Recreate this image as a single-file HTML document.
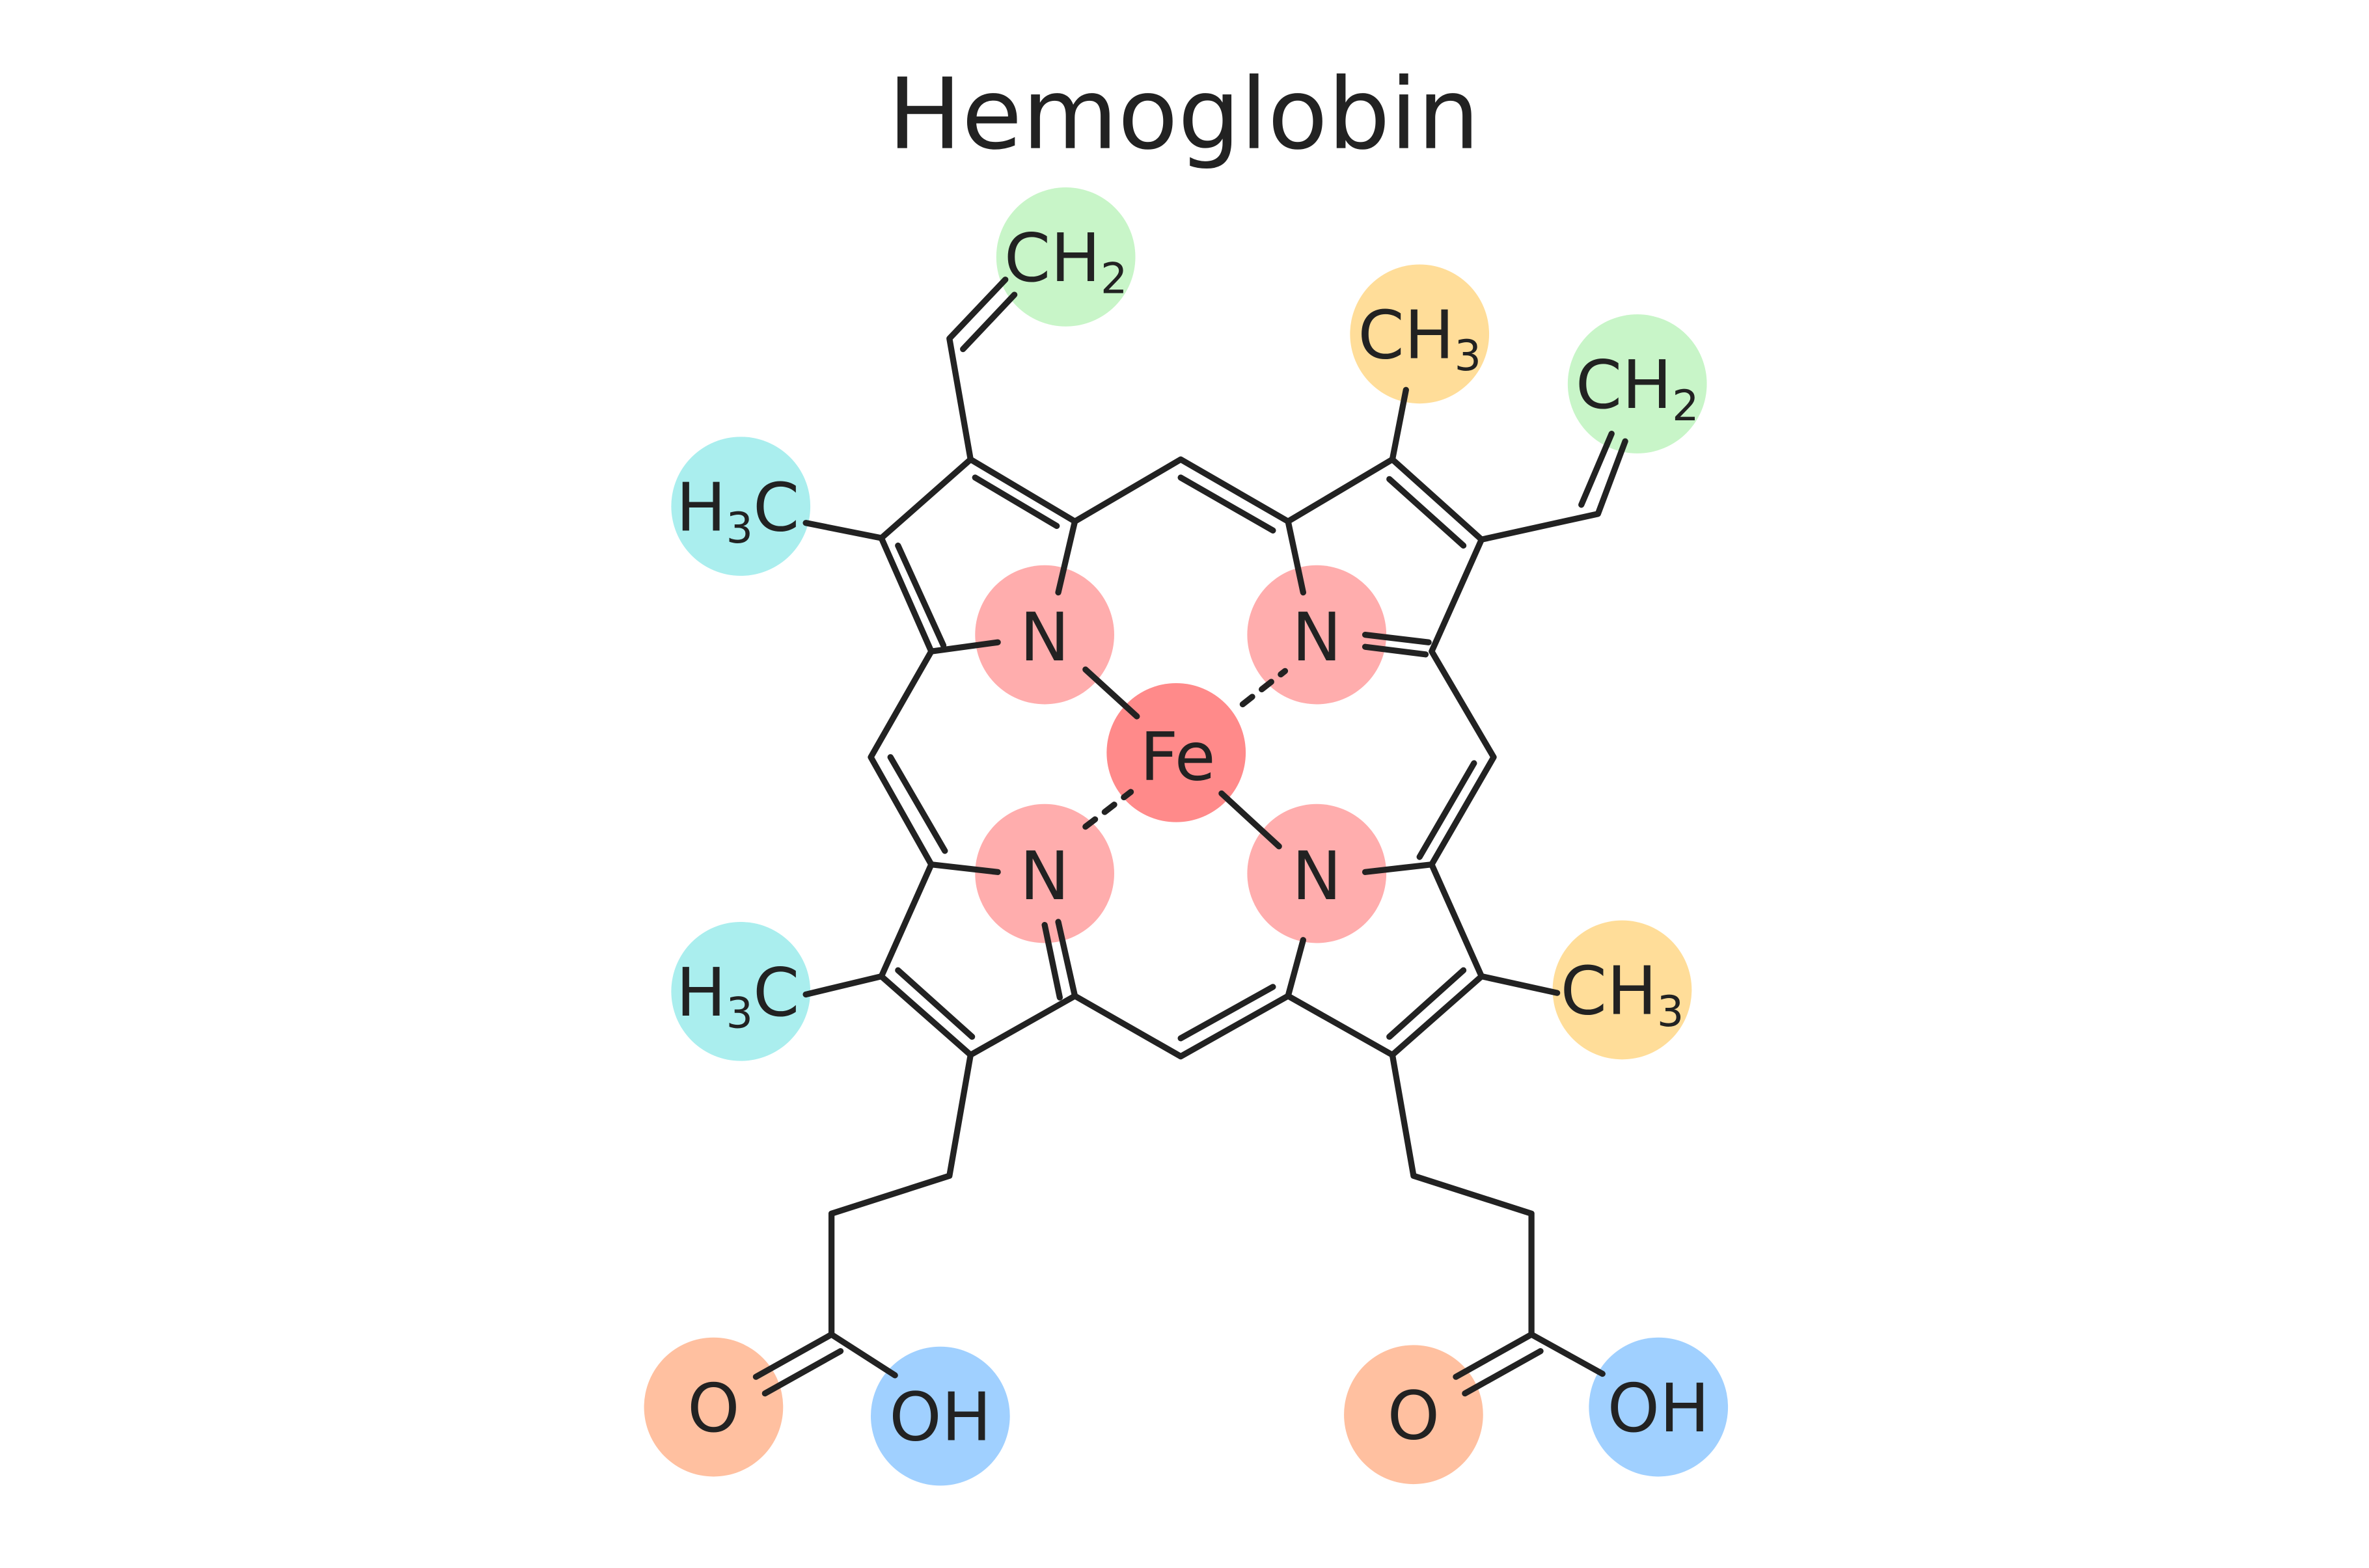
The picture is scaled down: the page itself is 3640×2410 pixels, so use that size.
<!DOCTYPE html>
<html><head><meta charset="utf-8"><style>html,body{margin:0;padding:0;background:#fff}svg{display:block}</style></head>
<body>
<svg width="3640" height="2410" viewBox="0 0 1567 1037.5" xmlns="http://www.w3.org/2000/svg">
<rect width="1567" height="1037.5" fill="#fff"/>
<text x="783" y="98" text-anchor="middle" font-family="DejaVu Sans, Liberation Sans, sans-serif" font-size="65" fill="#222">Hemoglobin</text>
<g>
<circle cx="705" cy="170" r="46" fill="#c8f5c8"/>
<circle cx="1083" cy="254" r="46" fill="#c8f5c8"/>
<circle cx="939" cy="221" r="46" fill="#ffdd99"/>
<circle cx="1073" cy="655" r="46" fill="#ffdd99"/>
<circle cx="490" cy="335" r="46" fill="#aaeeee"/>
<circle cx="490" cy="656" r="46" fill="#aaeeee"/>
<circle cx="691" cy="420" r="46" fill="#ffadad"/>
<circle cx="871" cy="420" r="46" fill="#ffadad"/>
<circle cx="871" cy="578" r="46" fill="#ffadad"/>
<circle cx="691" cy="578" r="46" fill="#ffadad"/>
<circle cx="778" cy="498" r="46" fill="#ff8a8a"/>
<circle cx="472" cy="931" r="46" fill="#ffc0a0"/>
<circle cx="935" cy="936" r="46" fill="#ffc0a0"/>
<circle cx="622" cy="937" r="46" fill="#a0d0ff"/>
<circle cx="1097" cy="931" r="46" fill="#a0d0ff"/>
</g>
<g stroke="#222" stroke-width="4" fill="none" stroke-linecap="round" stroke-linejoin="round">
<polyline points="616,431 583,356 642,304 711,345 781,304 852,345 921,304 980,357 947,431 988,501 947,572 980,646 921,698 852,659 781,699 711,659 642,698 583,646 616,572 576,501 616,431"/>
<line x1="616" y1="431" x2="660" y2="425"/>
<line x1="711" y1="345" x2="700" y2="392"/>
<line x1="852" y1="345" x2="862" y2="392"/>
<line x1="903" y1="420" x2="945" y2="425"/>
<line x1="903" y1="428" x2="943" y2="433"/>
<line x1="947" y1="572" x2="903" y2="577"/>
<line x1="852" y1="659" x2="862" y2="622"/>
<line x1="711" y1="659" x2="700" y2="610"/>
<line x1="701" y1="660" x2="691" y2="612"/>
<line x1="616" y1="572" x2="660" y2="577"/>
<line x1="645" y1="316" x2="699" y2="348"/>
<line x1="781" y1="316" x2="842" y2="351"/>
<line x1="919" y1="317" x2="968" y2="361"/>
<line x1="975" y1="505" x2="939" y2="567"/>
<line x1="968" y1="642" x2="919" y2="686"/>
<line x1="842" y1="653" x2="781" y2="687"/>
<line x1="643" y1="686" x2="594" y2="642"/>
<line x1="589" y1="501" x2="625" y2="563"/>
<line x1="594" y1="361" x2="624" y2="427"/>
<line x1="718" y1="443" x2="752" y2="474"/>
<line x1="808" y1="525" x2="846" y2="560"/>
<line x1="822" y1="466" x2="850" y2="444" stroke-dasharray="8,8"/>
<line x1="718" y1="547" x2="748" y2="524" stroke-dasharray="8,8"/>
<polyline points="642,304 628,224 665,185"/>
<line x1="637" y1="231" x2="671" y2="195"/>
<line x1="583" y1="356" x2="533" y2="346"/>
<line x1="921" y1="304" x2="930" y2="258"/>
<polyline points="980,357 1057,340 1075,292"/>
<line x1="1046" y1="334" x2="1066" y2="287"/>
<line x1="583" y1="646" x2="533" y2="658"/>
<line x1="980" y1="646" x2="1030" y2="657"/>
<polyline points="642,698 628,778 550,803 550,883 592,910"/>
<line x1="550" y1="883" x2="500" y2="911"/>
<line x1="556" y1="894" x2="506" y2="922"/>
<polyline points="921,698 935,778 1013,803 1013,883 1060,909"/>
<line x1="1013" y1="883" x2="963" y2="911"/>
<line x1="1019" y1="894" x2="969" y2="922"/>
</g>
<g font-family="DejaVu Sans, Liberation Sans, sans-serif" font-size="44" fill="#222" text-anchor="middle">
<text x="691" y="437">N</text>
<text x="871" y="437">N</text>
<text x="871" y="595">N</text>
<text x="691" y="595">N</text>
<text x="779" y="516">Fe</text>
<text x="472" y="947">O</text>
<text x="935" y="952">O</text>
<text x="622" y="953">OH</text>
<text x="1097" y="947">OH</text>
<text x="705" y="186">CH<tspan font-size="28" dy="8">2</tspan></text>
<text x="1083" y="270">CH<tspan font-size="28" dy="8">2</tspan></text>
<text x="939" y="237">CH<tspan font-size="28" dy="8">3</tspan></text>
<text x="1073" y="671">CH<tspan font-size="28" dy="8">3</tspan></text>
<text x="488" y="351">H<tspan font-size="28" dy="8">3</tspan><tspan dy="-8">C</tspan></text>
<text x="488" y="672">H<tspan font-size="28" dy="8">3</tspan><tspan dy="-8">C</tspan></text>
</g>
</svg>
</body></html>
